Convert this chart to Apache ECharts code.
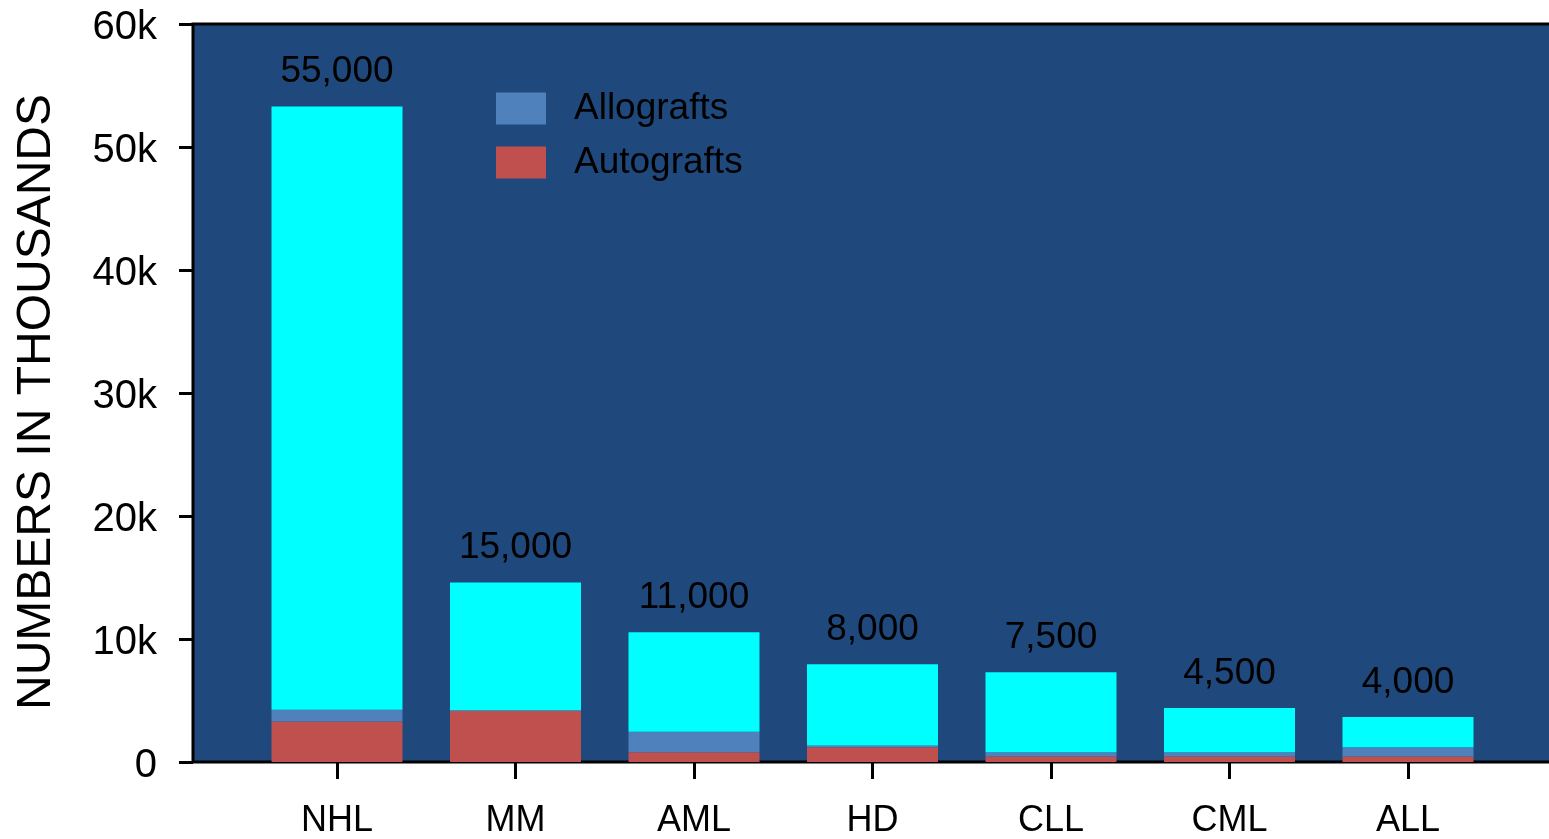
<!DOCTYPE html>
<html>
<head>
<meta charset="utf-8">
<script src="https://cdn.jsdelivr.net/npm/echarts@6/dist/echarts.min.js"></script>
<style>
html,body{margin:0;padding:0;background:#fff;}
#c{width:1549px;height:839px;}
</style>
</head>
<body>
<div id="c"></div>
<script>
const categories = ['NHL', 'MM', 'AML', 'HD', 'CLL', 'CML', 'ALL'];
const autografts = [3300, 4150, 800, 1200, 450, 450, 450];
const allografts = [950, 50, 1650, 150, 350, 350, 750];
const remainder = [49050, 10400, 8100, 6600, 6500, 3600, 2450];
const totalLabels = ['55,000', '15,000', '11,000', '8,000', '7,500', '4,500', '4,000'];
const yTicks = { min: 0, max: 60000, interval: 10000 };

const FONT = 'Liberation Sans, Arial, sans-serif';
const chart = echarts.init(document.getElementById('c'), null, { renderer: 'canvas' });

chart.setOption({
  animation: false,
  backgroundColor: '#ffffff',
  grid: [
    { left: 193, right: -3, top: 24, bottom: 77, outerBoundsMode: 'none', containLabel: false, show: true, backgroundColor: '#1f497d', borderColor: '#000', borderWidth: 3 },
    { left: 247.75, right: 51.75, top: 24, bottom: 77, outerBoundsMode: 'none', containLabel: false }
  ],
  legend: {
    orient: 'vertical',
    left: 491,
    top: 85,
    itemWidth: 50,
    itemHeight: 32,
    itemGap: 17,
    icon: 'rect',
    data: ['Allografts', 'Autografts'],
    textStyle: { fontFamily: FONT, fontSize: 37, color: '#000', padding: [0, 0, 0, 23] }
  },
  xAxis: [
    { gridIndex: 0, type: 'value', min: 0, max: 1, show: false },
    {
      gridIndex: 1, type: 'category', data: categories,
      axisLine: { show: false },
      axisTick: { show: true, alignWithLabel: true, length: 17, lineStyle: { color: '#000', width: 3 } },
      axisLabel: { fontFamily: FONT, fontSize: 36, color: '#000', margin: 41 }
    }
  ],
  yAxis: [
    {
      gridIndex: 0, type: 'value', min: yTicks.min, max: yTicks.max, interval: yTicks.interval,
      name: 'NUMBERS IN THOUSANDS', nameLocation: 'middle', nameGap: 132,
      nameTextStyle: { fontFamily: FONT, fontSize: 48, color: '#000', padding: [0, 0, 0, -18] },
      splitLine: { show: false },
      axisLine: { show: false },
      axisTick: { show: true, length: 14, lineStyle: { color: '#000', width: 3 } },
      axisLabel: {
        fontFamily: FONT, fontSize: 40, color: '#000', margin: 36,
        verticalAlign: 'top', lineHeight: 40, padding: [-16, 0, 0, 0],
        formatter: v => v === 0 ? '0' : (v / 1000) + 'k'
      }
    },
    { gridIndex: 1, type: 'value', min: yTicks.min, max: yTicks.max, show: false }
  ],
  series: [
    {
      name: 'Autografts', type: 'bar', stack: 't', xAxisIndex: 1, yAxisIndex: 1,
      barWidth: 131, data: autografts, itemStyle: { color: '#c0504d' }
    },
    {
      name: 'Allografts', type: 'bar', stack: 't', xAxisIndex: 1, yAxisIndex: 1,
      barWidth: 131, data: allografts, itemStyle: { color: '#4f81bd' }
    },
    {
      name: 'Other', type: 'bar', stack: 't', xAxisIndex: 1, yAxisIndex: 1,
      barWidth: 131, data: remainder, itemStyle: { color: '#00ffff' },
      label: {
        show: true, position: 'top', distance: 16,
        fontFamily: FONT, fontSize: 37, color: '#000',
        formatter: p => totalLabels[p.dataIndex]
      }
    }
  ]
});
</script>
</body>
</html>
